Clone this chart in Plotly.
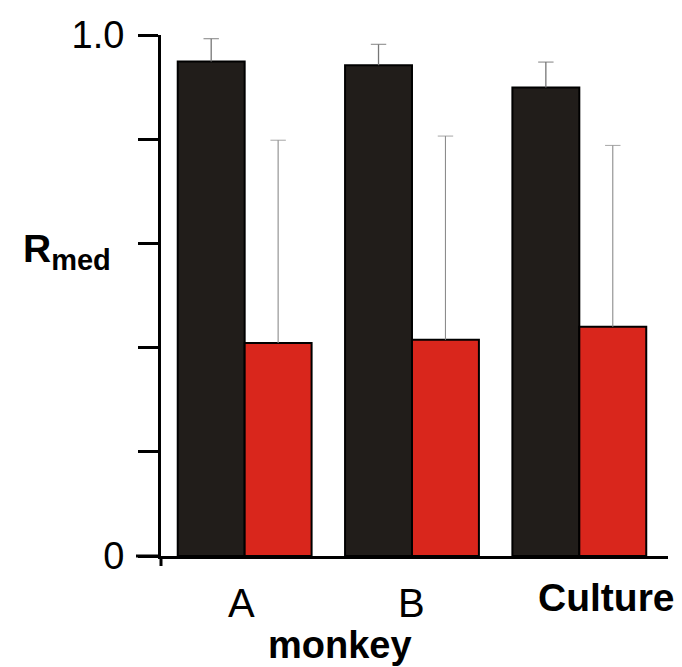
import plotly.graph_objects as go

# Groups and median correlation values
groups = ["A", "B", "Culture"]
group_labels = ["A", "B", "<b>Culture</b>"]
black_vals = [0.949, 0.942, 0.899]
black_err = [0.044, 0.040, 0.049]
red_vals = [0.409, 0.415, 0.440]
red_err = [0.389, 0.391, 0.348]

ytick_vals = [0, 0.2, 0.4, 0.6, 0.8, 1.0]
ytick_text = ["0", "", "", "", "", "1.0"]

FONT = "Liberation Sans, Arial, sans-serif"


def upper_whiskers(cats, vals, errs):
    """Vertical segments from each bar top up to top + error, with a cap at the end."""
    xs, ys, sizes = [], [], []
    for c, v, e in zip(cats, vals, errs):
        xs += [c, c, None]
        ys += [v, v + e, None]
        sizes += [0, 11, 0]
    return xs, ys, sizes


fig = go.Figure()
fig.add_trace(go.Bar(
    x=groups, y=black_vals, offsetgroup="g1",
    marker=dict(color="#211d1a", line=dict(color="#000000", width=2)),
))
fig.add_trace(go.Bar(
    x=groups, y=red_vals, offsetgroup="g2",
    marker=dict(color="#d9261c", line=dict(color="#000000", width=2)),
))

for vals, errs, col, wid, og in [
    (black_vals, black_err, "#767676", 1.3, "g1"),
    (red_vals, red_err, "#8c8c8c", 1.1, "g2"),
]:
    xs, ys, sizes = upper_whiskers(groups, vals, errs)
    fig.add_trace(go.Scatter(
        x=xs, y=ys, mode="lines+markers", offsetgroup=og,
        line=dict(color=col, width=wid),
        marker=dict(symbol="line-ew", size=sizes,
                    line=dict(color=col, width=wid)),
        hoverinfo="skip", cliponaxis=False,
    ))

# category labels under the axis
annotations = []
label_x = [-0.02, 1.0, 2.16]
label_shift = [-47, -47, -41]
label_size = [40, 40, 39]
for lx, txt, ys_, fs in zip(label_x, group_labels, label_shift, label_size):
    annotations.append(dict(x=lx, y=0, xref="x", yref="paper", yshift=ys_,
                            text=txt, showarrow=False, xanchor="center",
                            yanchor="middle",
                            font=dict(family=FONT, size=fs, color="#000")))
annotations.append(dict(x=0.57, y=0, xref="x", yref="paper", yshift=-89,
                        text="<b>monkey</b>", showarrow=False,
                        xanchor="center", yanchor="middle",
                        font=dict(family=FONT, size=38, color="#000")))
annotations.append(dict(x=-0.276, y=0.585, xref="paper", yref="paper",
                        text="<b>R<sub><span style='font-size:29px'>med</span></sub></b>",
                        showarrow=False, xanchor="left", yanchor="middle",
                        font=dict(family=FONT, size=39, color="#000")))

plot_w = 682 - 161 - 14
plot_h = 667 - 35 - 111
shapes = [
    # x axis continues left past the y axis at zero
    dict(type="line", xref="paper", yref="paper",
         x0=-25 / plot_w, x1=0, y0=0, y1=0,
         line=dict(color="#000", width=3)),
    # y axis continues slightly below the x axis
    dict(type="line", xref="paper", yref="paper",
         x0=0, x1=0, y0=-10 / plot_h, y1=0,
         line=dict(color="#000", width=3)),
]

fig.update_layout(
    width=682, height=667,
    margin=dict(l=161, r=14, t=35, b=111),
    paper_bgcolor="white", plot_bgcolor="white",
    barmode="group", bargap=0.2, bargroupgap=0,
    scattermode="group", scattergap=0.2,
    showlegend=False,
    annotations=annotations,
    shapes=shapes,
    xaxis=dict(range=[-0.5, 2.53], showticklabels=False, ticks="",
               showline=True, linecolor="#000", linewidth=3,
               showgrid=False, zeroline=False, fixedrange=True),
    yaxis=dict(range=[0, 1.0], tickvals=ytick_vals, ticktext=ytick_text,
               ticks="outside", ticklen=20, tickwidth=3, tickcolor="#000",
               ticklabelstandoff=6,
               tickfont=dict(family=FONT, size=38, color="#000"),
               showline=True, linecolor="#000", linewidth=3,
               showgrid=False, zeroline=False, fixedrange=True),
)

fig.write_html("out.html")
